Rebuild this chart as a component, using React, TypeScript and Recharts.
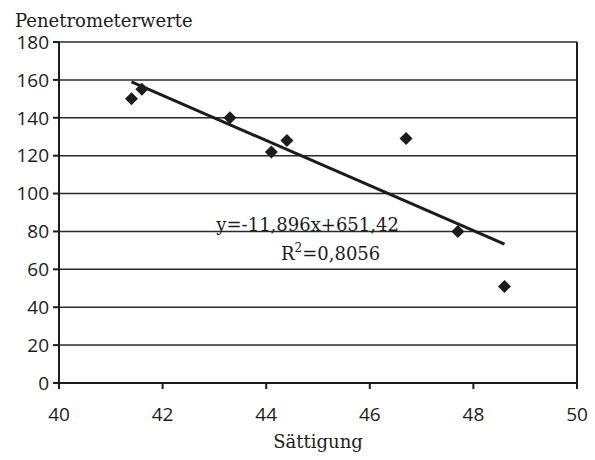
import {
  ScatterChart,
  Scatter,
  XAxis,
  YAxis,
  CartesianGrid,
  ReferenceLine,
  ReferenceDot,
} from "recharts";

const saturation = [41.4, 41.6, 43.3, 44.1, 44.4, 46.7, 47.7, 48.6];
const penetrometer = [150, 155, 140, 122, 128, 129, 80, 51];

// trend line end points
const trendX = [41.4, 48.6];
const trendY = [158.9, 73.3];

const xTicks = [40, 42, 44, 46, 48, 50];
const yTicks = [0, 20, 40, 60, 80, 100, 120, 140, 160, 180];

const equationText = "y=-11,896x+651,42";
const r2Text = "0,8056";

const points = saturation.map((x, i) => ({ x, y: penetrometer[i] }));
const trend = trendX.map((x, i) => ({ x, y: trendY[i] }));

const INK = "#1c1c1c";
const SERIF = "'DejaVu Serif', 'Liberation Serif', serif";
const SANS = "'Open Sans', Lato, sans-serif";

function Diamond(props: any) {
  const { cx, cy } = props;
  const h = 6.5;
  return (
    <polygon
      points={`${cx},${cy - h} ${cx + h},${cy} ${cx},${cy + h} ${cx - h},${cy}`}
      fill={INK}
    />
  );
}

function EquationLabel(props: any) {
  const { viewBox } = props;
  const cx = viewBox.x + viewBox.width / 2;
  const cy = viewBox.y + viewBox.height / 2;
  return (
    <g fontFamily={SERIF} fontSize={18} fill={INK}>
      <text x={cx} y={cy} textAnchor="middle">
        {equationText}
      </text>
      <text x={cx + 23} y={cy + 29} textAnchor="middle">
        R<tspan dy={-8} fontSize={12}>2</tspan>
        <tspan dy={8}>={r2Text}</tspan>
      </text>
    </g>
  );
}

export default function App() {
  return (
    <div
      style={{
        position: "fixed",
        left: 0,
        top: 0,
        width: 595,
        height: 460,
        background: "#fff",
      }}
    >
      <div
        style={{
          position: "absolute",
          left: 15,
          top: 12,
          fontFamily: SERIF,
          fontSize: 18,
          lineHeight: "18px",
          color: INK,
        }}
      >
        Penetrometerwerte
      </div>
      <ScatterChart
        width={595}
        height={460}
        margin={{ top: 42, right: 18, bottom: 0, left: 0 }}
      >
        <CartesianGrid vertical={false} stroke="#2a2a2a" strokeWidth={1.5} />
        <XAxis
          type="number"
          dataKey="x"
          domain={[40, 50]}
          ticks={xTicks}
          allowDataOverflow
          stroke={INK}
          strokeWidth={2}
          tickSize={6}
          tickMargin={19}
          tick={{ fontFamily: SANS, fontSize: 19, fontWeight: 500, fill: INK }}
          height={77}
          label={{
            value: "Sättigung",
            position: "insideBottom",
            offset: 12,
            style: { fontFamily: SERIF, fontSize: 18, fill: INK },
          }}
        />
        <YAxis
          type="number"
          dataKey="y"
          domain={[0, 180]}
          ticks={yTicks}
          allowDataOverflow
          stroke={INK}
          strokeWidth={2}
          tickSize={6}
          tickMargin={4}
          width={59}
          tick={{ fontFamily: SANS, fontSize: 19, fontWeight: 500, fill: INK }}
        />
        <ReferenceLine x={50} stroke={INK} strokeWidth={2} />
        <Scatter
          data={trend}
          line={{ stroke: INK, strokeWidth: 3 }}
          shape={() => null}
          isAnimationActive={false}
        />
        <Scatter data={points} shape={Diamond} isAnimationActive={false} />
        <ReferenceDot
          x={44.8}
          y={80}
          r={0}
          stroke="none"
          fill="none"
          label={<EquationLabel />}
        />
      </ScatterChart>
    </div>
  );
}
